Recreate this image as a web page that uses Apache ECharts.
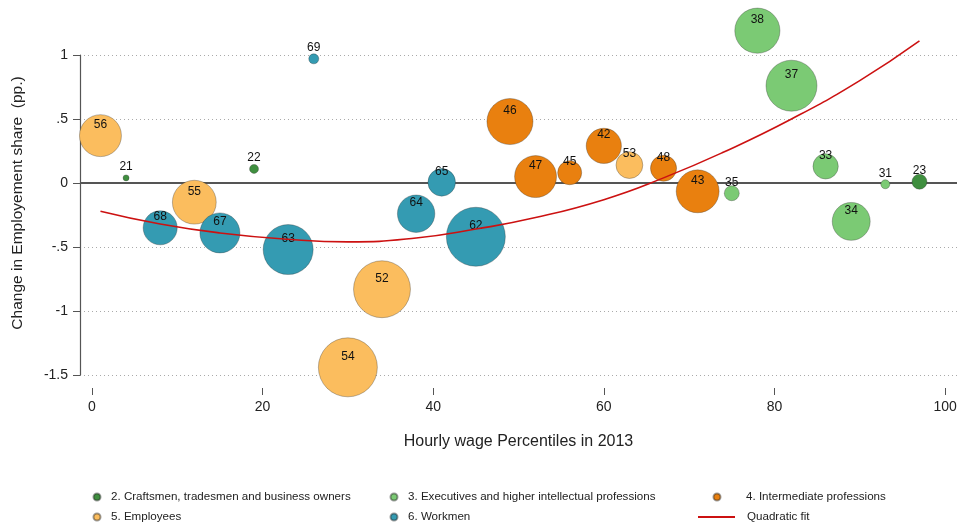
<!DOCTYPE html>
<html>
<head>
<meta charset="utf-8">
<script src="https://cdn.jsdelivr.net/npm/echarts@6/dist/echarts.min.js"></script>
<style>
  html, body { margin: 0; padding: 0; background: #fff; }
  #bubble { width: 961px; height: 529px; }
</style>
</head>
<body>
<div id="bubble"></div>
<script>
// occupation codes (first digit = socio-professional group)
var codes   = [21, 22, 23, 38, 37, 33, 34, 35, 31, 46, 47, 45, 42, 48, 43, 56, 55, 52, 54, 53, 69, 68, 67, 63, 64, 65, 62];
// hourly wage percentile in 2013
var wagePct = [4, 19, 97, 78, 82, 86, 89, 75, 93, 49, 52, 56, 60, 67, 71, 1, 12, 34, 30, 63, 26, 8, 15, 23, 38, 41, 45];
// change in employment share (pp.)
var change  = [0.04, 0.11, 0.01, 1.19, 0.76, 0.13, -0.30, -0.08, -0.01, 0.48, 0.05, 0.08, 0.29, 0.115, -0.065,
               0.37, -0.15, -0.83, -1.44, 0.14, 0.97, -0.35, -0.39, -0.52, -0.24, 0.005, -0.42];
// employment weight (bubble area)
var weight  = [0.09, 0.2, 0.56, 5.1, 6.5, 1.6, 3.6, 0.56, 0.2, 5.3, 4.4, 1.44, 3.1, 1.7, 4.6,
               4.4, 4.8, 8.1, 8.7, 1.8, 0.25, 2.9, 4.0, 6.25, 3.5, 1.9, 8.7];

var groupNames = {
  2: '2. Craftsmen, tradesmen and business owners',
  3: '3. Executives and higher intellectual professions',
  4: '4. Intermediate professions',
  5: '5. Employees',
  6: '6. Workmen'
};
var groupColors = { 2: '#3f8f3f', 3: '#7bca74', 4: '#e9800f', 5: '#fbbd5e', 6: '#349bb2' };

// quadratic fit
var fitX = [1, 8, 15, 23, 30, 38, 45, 52, 60, 67, 74, 82, 90, 97];
var fitY = [-0.22, -0.32, -0.39, -0.44, -0.46, -0.43, -0.36, -0.27, -0.13, 0.04, 0.24, 0.50, 0.80, 1.11];

var xTicks = [0, 20, 40, 60, 80, 100];

var chartDom = document.getElementById('bubble');
var myChart = echarts.init(chartDom);
var font = 'Liberation Sans, Arial, sans-serif';

var series = [];
[2, 3, 4, 5, 6].forEach(function (g) {
  var pts = [];
  for (var i = 0; i < codes.length; i++) {
    if (Math.floor(codes[i] / 10) === g) {
      pts.push([wagePct[i], change[i], weight[i], codes[i]]);
    }
  }
  series.push({
    name: groupNames[g],
    type: 'scatter',
    clip: false,
    data: pts,
    symbolSize: function (val) { return 20 * Math.sqrt(val[2]); },
    itemStyle: {
      color: groupColors[g],
      opacity: 1,
      borderColor: 'rgba(40,40,40,0.45)',
      borderWidth: 0.7
    },
    label: {
      show: true,
      position: 'inside',
      offset: [0, -11],
      formatter: function (p) { return p.value[3]; },
      color: '#111',
      fontSize: 12,
      fontFamily: font
    },
    emphasis: { disabled: true },
    z: 2
  });
});

var fitData = fitX.map(function (x, i) { return [x, fitY[i]]; });
series.push({
  name: 'Quadratic fit',
  type: 'line',
  data: fitData,
  smooth: true,
  clip: false,
  symbol: 'none',
  lineStyle: { color: '#cc1111', width: 1.6 },
  itemStyle: { color: '#cc1111' },
  z: 3,
  markLine: {
    silent: true,
    symbol: 'none',
    label: { show: false },
    lineStyle: { color: '#555', type: 'solid', width: 2 },
    data: [{ yAxis: 0 }],
    z: 1
  }
});

var legendText = { color: '#222', fontSize: 11.6, fontFamily: font, lineHeight: 14 };

function legendBox(left, top, names, w, h, icon, padLeft) {
  return {
    orient: 'vertical', left: left, top: top, padding: 0, itemGap: 6,
    itemWidth: w, itemHeight: h, icon: icon,
    textStyle: Object.assign({ padding: [0, 0, 0, padLeft] }, legendText),
    data: names
  };
}

var option = {
  animation: false,
  grid: { left: 80, right: 4, top: 55, bottom: 154 },
  xAxis: {
    type: 'value',
    min: -1.4,
    max: 101.4,
    offset: 13,
    name: 'Hourly wage Percentiles in 2013',
    nameLocation: 'middle',
    nameGap: 46,
    nameTextStyle: { color: '#222', fontSize: 16, fontFamily: font },
    axisLine: { show: false, onZero: false },
    axisTick: { show: true, length: 7, customValues: xTicks, lineStyle: { color: '#555' } },
    axisLabel: { customValues: xTicks, margin: 12, color: '#222', fontSize: 14, fontFamily: font },
    splitLine: { show: false }
  },
  yAxis: {
    type: 'value',
    min: -1.5,
    max: 1,
    interval: 0.5,
    name: 'Change in Employement share  (pp.)',
    nameLocation: 'middle',
    nameGap: 54,
    nameTextStyle: { color: '#222', fontSize: 15.5, fontFamily: font, padding: [0, 0, 0, 24] },
    axisLine: { show: true, onZero: false, lineStyle: { color: '#555', width: 1.2 } },
    axisTick: { show: true, length: 7, lineStyle: { color: '#555' } },
    axisLabel: {
      margin: 12,
      color: '#222',
      fontSize: 14,
      fontFamily: font,
      formatter: function (v) {
        return String(v).replace(/^(-?)0\./, '$1.');
      }
    },
    splitLine: { show: true, lineStyle: { color: '#aaa', type: [1, 3], width: 1 } }
  },
  legend: [
    legendBox(92.5, 490, [groupNames[2], groupNames[5]], 14, 7, 'circle', 2),
    legendBox(389.5, 490, [groupNames[3], groupNames[6]], 14, 7, 'circle', 2),
    legendBox(712.5, 490, [groupNames[4]], 28, 7, 'circle', 10),
    legendBox(698, 510, ['Quadratic fit'], 37, 2, 'rect', 7)
  ],
  series: series
};

option && myChart.setOption(option);
</script>
</body>
</html>
